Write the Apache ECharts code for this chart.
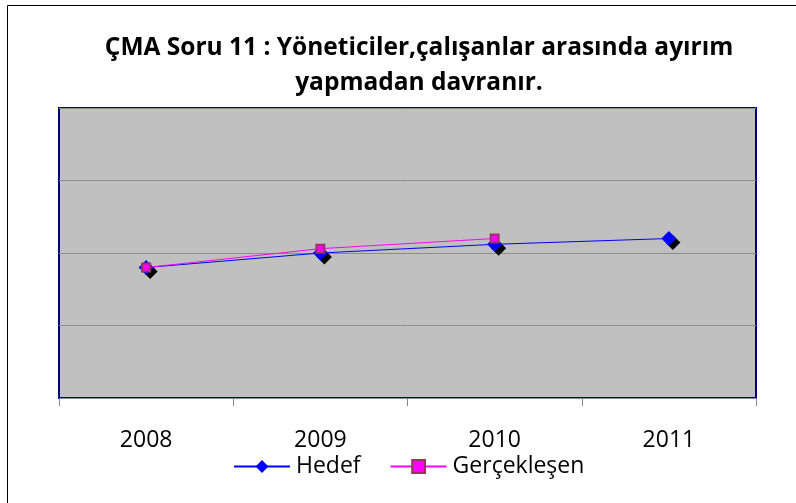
<!DOCTYPE html>
<html>
<head>
<meta charset="utf-8">
<script src="https://cdn.jsdelivr.net/npm/echarts@6/dist/echarts.min.js"></script>
<style>
    html, body { margin: 0; padding: 0; background: #fff; }
    #main { width: 796px; height: 503px; }
</style>
</head>
<body>
<div id="main"></div>
<script>
    // veriler
    var years = ['2008', '2009', '2010', '2011'];
    var hedef = [45, 50, 53, 55];
    var gerceklesen = [45, 51.5, 55, null];

    var myChart = echarts.init(document.getElementById('main'));

    var option = {
        backgroundColor: '#fff',
        textStyle: { fontFamily: '"Open Sans", sans-serif' },
        // dış çerçeve
        graphic: [{
            type: 'rect',
            shape: { x: 7.5, y: 5.5, width: 800, height: 510 },
            style: { fill: 'none', stroke: '#000', lineWidth: 1 },
            silent: true
        }],
        title: {
            text: 'ÇMA Soru 11 : Yöneticiler,çalışanlar arasında ayırım\nyapmadan davranır.',
            left: 414,
            textAlign: 'center',
            top: 26,
            textStyle: {
                fontSize: 24.5,
                fontWeight: 'bold',
                color: '#000',
                lineHeight: 35,
                fontFamily: '"Open Sans", sans-serif'
            }
        },
        legend: {
            bottom: 20,
            left: 228,
            itemWidth: 56,
            itemHeight: 16,
            itemGap: 29,
            textStyle: { fontSize: 23, color: '#000', padding: [0, 0, 0, 1] },
            data: ['Hedef', 'Gerçekleşen']
        },
        grid: {
            left: 59,
            right: 40,
            top: 108,
            bottom: 105,
            show: true,
            backgroundColor: '#c0c0c0',
            borderColor: '#000080',
            borderWidth: 2
        },
        xAxis: {
            type: 'category',
            data: years,
            boundaryGap: true,
            axisLine: { show: false },
            axisTick: { show: true, length: 8, lineStyle: { color: '#888' } },
            axisLabel: { fontSize: 23, color: '#000', margin: 31 }
        },
        yAxis: {
            type: 'value',
            min: 0,
            max: 100,
            interval: 25,
            axisLine: { show: false },
            axisTick: { show: false },
            axisLabel: { show: false },
            splitLine: { lineStyle: { color: '#8c8c8c', width: 1 } }
        },
        series: [{
            name: 'Hedef',
            type: 'line',
            data: hedef,
            symbol: 'diamond',
            symbolSize: 15,
            color: '#0000ff',
            lineStyle: { color: '#0000ff', width: 1 },
            itemStyle: {
                color: '#0000ff',
                shadowColor: '#000',
                shadowBlur: 0,
                shadowOffsetX: 4,
                shadowOffsetY: 4
            },
            z: 2
        }, {
            name: 'Gerçekleşen',
            type: 'line',
            data: gerceklesen,
            symbol: 'rect',
            symbolSize: 8,
            color: '#ff00ff',
            lineStyle: { color: '#ff00ff', width: 1 },
            itemStyle: {
                color: '#ff00ff',
                borderColor: '#993366',
                borderWidth: 2
            },
            z: 3
        }],
        animation: false
    };

    myChart.setOption(option);
</script>
</body>
</html>
